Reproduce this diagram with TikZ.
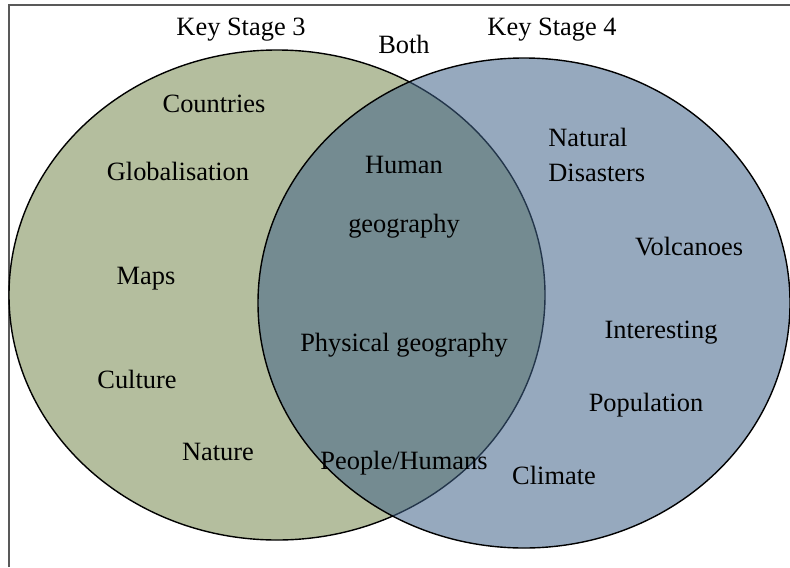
\documentclass[tikz,border=0pt]{standalone}
\usepackage{fontspec}
\setmainfont{Liberation Serif}
\definecolor{stagegreen}{RGB}{180,190,158}
\definecolor{stageblue}{RGB}{64,98,136}

\begin{document}
\begin{tikzpicture}[x=0.5pt,y=-0.5pt,
  word/.style={font=\fontsize{13.2}{17.5}\selectfont,inner sep=0pt},
  stage/.style={draw=black,line width=0.7pt}]

  \useasboundingbox (0,0) rectangle (790,567);
  \draw[line width=1pt,black!65] (8.5,567) -- (8.5,5) -- (790,5);

  % the two sets, the second one laid over the first
  \path[stage,fill=stagegreen] (277,295) ellipse [x radius=268,y radius=245];
  \path[stage,fill=stageblue,fill opacity=0.55] (524,303) ellipse [x radius=266,y radius=245];

  \node[word] (ks3) at (241,30) {Key Stage 3};
  \node[word] (both) at (404,44) {Both};
  \node[word] (ks4) at (552,30) {Key Stage 4};

  \node[word] (countries) at (214,104) {Countries};
  \node[word] (global) at (178,171) {Globalisation};
  \node[word] (maps) at (146,279) {Maps};
  \node[word] (culture) at (137,379) {Culture};
  \node[word] (nature) at (218,452) {Nature};

  \node[word] (human) at (404,165) {Human};
  \node[word] (geog) at (404,226) {geography};
  \node[word] (physical) at (404,345) {Physical geography};
  \node[word] (people) at (404,463) {People/Humans};

  \node[word,align=left,anchor=west] (disasters) at (548,155) {Natural\\Disasters};
  \node[word] (volcanoes) at (689,247) {Volcanoes};
  \node[word] (interest) at (661,333) {Interesting};
  \node[word] (population) at (646,405) {Population};
  \node[word] (climate) at (554,475) {Climate};
\end{tikzpicture}
\end{document}
